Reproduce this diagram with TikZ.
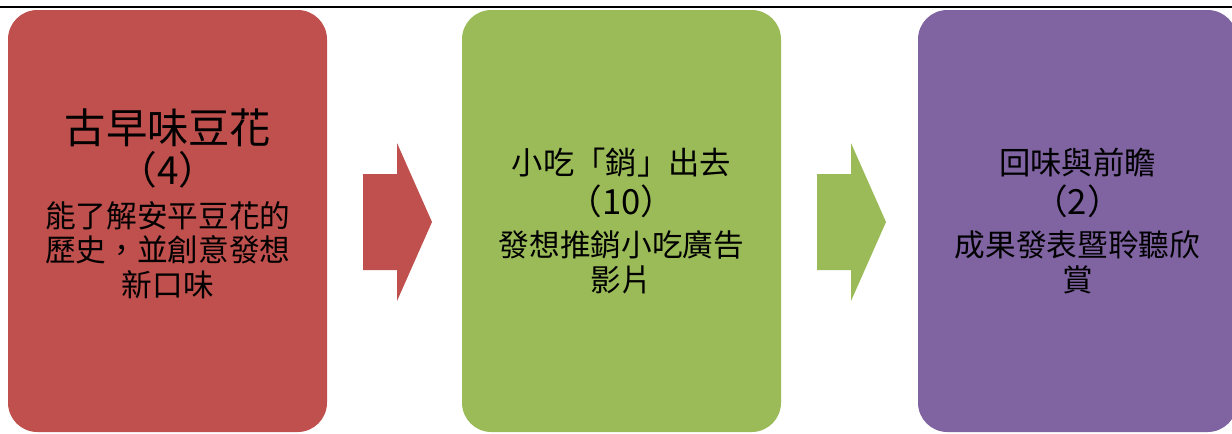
\documentclass[tikz,border=0pt]{standalone}
\usepackage{fontspec}
\newfontfamily\cjk{Noto Sans CJK TC}
\usetikzlibrary{positioning}
\definecolor{stagered}{HTML}{C0504D}
\definecolor{stagegreen}{HTML}{9BBB59}
\definecolor{stagepurple}{HTML}{8064A2}
\tikzstyle{stagebox} = [rectangle, rounded corners=22pt, inner sep=0pt,
    minimum width=239.25pt, minimum height=316.5pt]
\tikzstyle{stagetitle} = [align=center, inner sep=0pt,
    font=\cjk\fontsize{23.5}{26}\selectfont]
\tikzstyle{stagetext} = [align=center, inner sep=0pt,
    font=\cjk\fontsize{23}{26}\selectfont]
\tikzstyle{stagenum} = [inner sep=0pt, font=\cjk\fontsize{26}{28}\selectfont]

\begin{document}
\begin{tikzpicture}[x=0.75pt, y=-0.75pt]
        \useasboundingbox (0,0) rectangle (1232,433);
        \clip (0,0) rectangle (1232,433);
        % rule
        \draw[line width=1.5pt] (0,7) -- (1232,7);
        % boxes
        \node [stagebox, fill=stagered] (gu) at (167.5,221) {};
        \node [stagebox, fill=stagegreen] (xiao) at (621.5,221) {};
        \node [stagebox, fill=stagepurple] (hui) at (1077.5,221) {};
        % texts
        \node [stagetitle, font=\cjk\fontsize{31}{34}\selectfont] (gutitle) at (168,128) {古早味豆花};
        \node [stagenum, font=\cjk\fontsize{29}{30}\selectfont] (gunum) at (168,170) {（4）};
        \node [stagetext] (gudesc) at (168,250) {能了解安平豆花的\\歷史，並創意發想\\新口味};
        \node [stagetitle] (xiaotitle) at (621.5,163) {小吃「銷」出去};
        \node [stagenum] (xiaonum) at (621.5,201) {（10）};
        \node [stagetext] (xiaodesc) at (621.5,262.5) {發想推銷小吃廣告\\影片};
        \node [stagetitle] (huititle) at (1077.5,163) {回味與前瞻};
        \node [stagenum] (huinum) at (1077.5,201) {（2）};
        \node [stagetext] (huidesc) at (1077.5,262.5) {成果發表暨聆聽欣\\賞};
        % arrows
        \coordinate (arrowa) at (363,222);
        \coordinate (arrowb) at (817,222);
        \fill[stagered] (arrowa) ++(0,-48) -- ++(34,0) -- ++(0,-31) -- ++(35,79)
            -- ++(-35,79) -- ++(0,-31) -- ++(-34,0) -- cycle;
        \fill[stagegreen] (arrowb) ++(0,-48) -- ++(34,0) -- ++(0,-31) -- ++(35,79)
            -- ++(-35,79) -- ++(0,-31) -- ++(-34,0) -- cycle;
    \end{tikzpicture}
\end{document}
